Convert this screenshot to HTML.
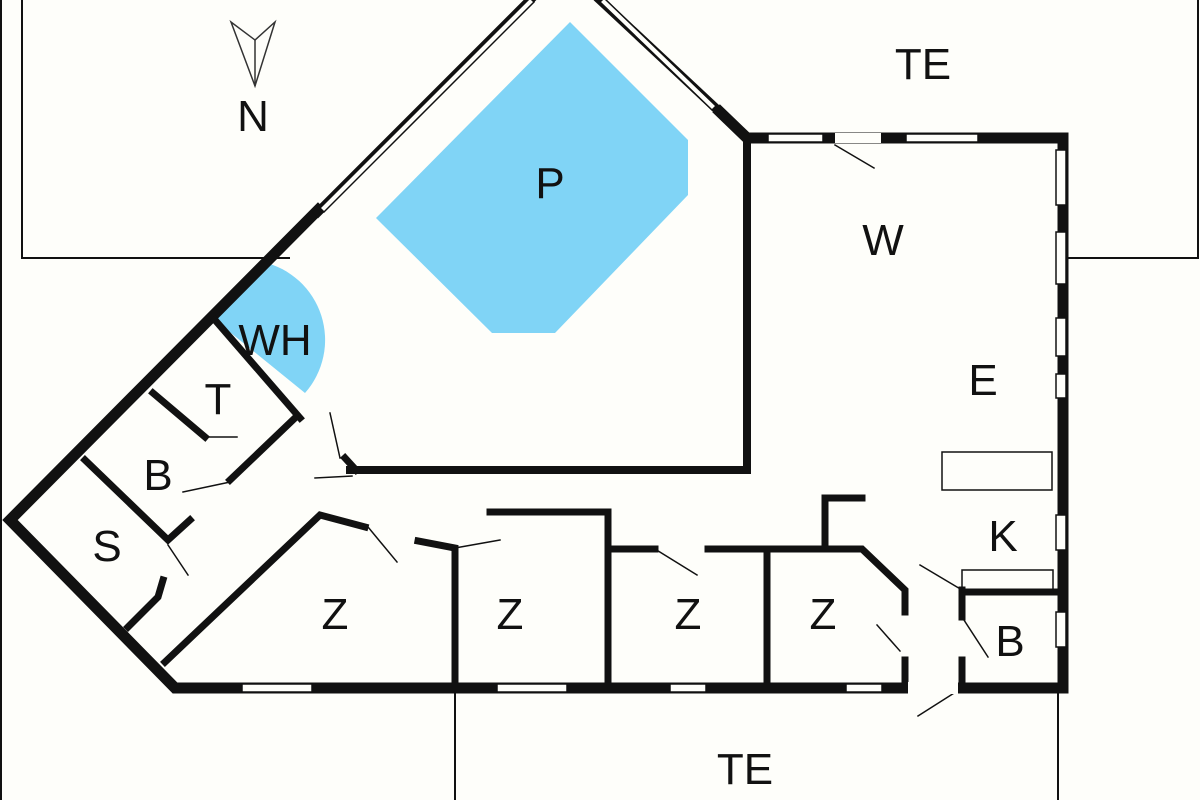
<!DOCTYPE html>
<html><head><meta charset="utf-8"><style>body{margin:0;background:#fefefa}svg{display:block}text{font-family:"Liberation Sans",sans-serif;font-size:44px;fill:#111;text-anchor:middle}</style></head><body>
<svg width="1200" height="800" viewBox="0 0 1200 800">
<rect width="1200" height="800" fill="#fefefa"/>
<g fill="none" stroke="#111" stroke-width="2">
<polyline points="22,0 22,258 290,258"/>
<polyline points="1063,258 1198,258 1198,0"/>
<polyline points="455,688 455,800"/>
<polyline points="1058,688 1058,800"/>
<line x1="1" y1="0" x2="1" y2="800"/>
</g>
<polygon points="570,22 688,140 688,195 555,333 492,333 376,218" fill="#80d4f6"/>
<path d="M215,320 L263,262 A80,80 0 0 1 305,393 Z" fill="#80d4f6"/>
<g fill="none" stroke="#333" stroke-width="1.5">
<polygon points="231,22 255,86 275,22 255,40"/><line x1="255" y1="40" x2="255" y2="86"/>
</g>
<g stroke="#111" fill="none" stroke-linecap="square">
<polyline stroke-width="11" points="318,210 10,520 175,688 1063,688 1063,138 747,138 720,112"/>
<line x1="318" y1="212" x2="530" y2="0" stroke-width="9"/>
<line x1="600" y1="0" x2="722" y2="114" stroke-width="9"/>
<polyline stroke-width="8" points="747,138 747,470 350,470"/>
<g stroke-width="7">
<polyline points="215,320 300,418"/>
<polyline points="153,393 205,437"/>
<polyline points="85,460 168,540 190,520"/>
<polyline points="295,418 230,480"/>
<polyline points="128,627 158,597 163,580"/>
<polyline points="165,662 320,515 365,527"/>
<polyline points="418,541 455,548 455,688"/>
<polyline points="490,512 608,512 608,688"/>
<polyline points="613,549 655,549"/>
<polyline points="708,549 862,549 905,590 905,612"/>
<polyline points="767,549 767,688"/>
<polyline points="862,498 825,498 825,549"/>
<polyline points="905,660 905,688"/>
<polyline points="962,590 962,617"/>
<polyline points="962,660 962,688"/>
<polyline points="962,592 1055,592"/>
<polyline points="345,458 356,470"/>
</g>
<g stroke-width="1.5">
<line x1="205" y1="437" x2="237" y2="437"/>
<line x1="183" y1="492" x2="230" y2="482"/>
<line x1="330" y1="413" x2="340" y2="458"/>
<line x1="315" y1="478" x2="352" y2="476"/>
<line x1="168" y1="545" x2="188" y2="575"/>
<line x1="368" y1="527" x2="397" y2="562"/>
<line x1="455" y1="548" x2="500" y2="540"/>
<line x1="655" y1="549" x2="697" y2="575"/>
<line x1="835" y1="145" x2="874" y2="168"/>
<line x1="877" y1="625" x2="900" y2="651"/>
<line x1="920" y1="565" x2="962" y2="590"/>
<line x1="962" y1="617" x2="988" y2="657"/>
<line x1="962" y1="688" x2="918" y2="716"/>
<rect x="942" y="452" width="110" height="38"/>
<rect x="962" y="570" width="91" height="22"/>
</g>
</g>
<g fill="#fefefa" stroke="#111" stroke-width="1.5">
<rect x="768" y="134" width="55" height="8"/>
<rect x="906" y="134" width="72" height="8"/>
<rect x="835" y="133" width="46" height="10" stroke="none"/>
<rect x="1056" y="150" width="10" height="55"/>
<rect x="1056" y="232" width="10" height="52"/>
<rect x="1056" y="318" width="10" height="38"/>
<rect x="1056" y="374" width="10" height="24"/>
<rect x="1056" y="515" width="10" height="35"/>
<rect x="1056" y="612" width="10" height="35"/>
<rect x="242" y="684" width="70" height="8"/>
<rect x="497" y="684" width="70" height="8"/>
<rect x="670" y="684" width="36" height="8"/>
<rect x="846" y="684" width="36" height="8"/>
<rect x="908" y="682" width="50" height="12" stroke="none"/>
<polygon points="320,208 530,-2 534,2 324,212"/>
<polygon points="604,-2 716,106 712,110 600,2"/>
</g>
<text x="923" y="79">TE</text>
<text x="253" y="131">N</text>
<text x="550" y="198">P</text>
<text x="883" y="255">W</text>
<text x="275" y="355">WH</text>
<text x="983" y="395">E</text>
<text x="218" y="414">T</text>
<text x="158" y="490">B</text>
<text x="1003" y="551">K</text>
<text x="107" y="561">S</text>
<text x="335" y="629">Z</text>
<text x="510" y="629">Z</text>
<text x="688" y="629">Z</text>
<text x="823" y="629">Z</text>
<text x="1010" y="656">B</text>
<text x="745" y="784">TE</text>
</svg>
</body></html>
